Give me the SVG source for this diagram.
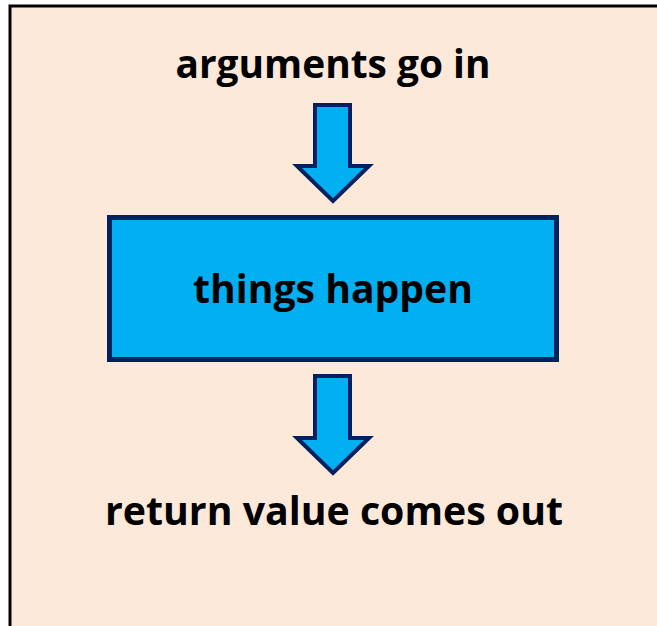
<svg xmlns="http://www.w3.org/2000/svg" width="657" height="626" viewBox="0 0 657 626">
<style>
.t{font-family:"Open Sans","Liberation Sans",sans-serif;font-weight:bold;font-size:39px;fill:#000;text-anchor:middle}
.arr{fill:#00B0F0;stroke:#002060;stroke-width:4;stroke-linejoin:miter}
</style>
<rect x="0" y="0" width="657" height="626" fill="#ffffff"/>
<rect id="frame" x="10" y="6" width="660" height="640" fill="#FDE9D9" stroke="#000" stroke-width="3"/>
<g id="connectors">
<polygon class="arr" points="315,105 350,105 350,166 369,166 333,201 297,166 315,166"/>
<polygon class="arr" points="315,376 350,376 350,438 369,438 333,473 297,438 315,438"/>
</g>
<g id="input">
<text class="t" x="333" y="78" textLength="315" lengthAdjust="spacingAndGlyphs">arguments go in</text>
</g>
<g id="process">
<rect x="109.5" y="217.5" width="447" height="142" fill="#00B0F0" stroke="#002060" stroke-width="5"/>
<text class="t" x="333" y="303" textLength="280" lengthAdjust="spacingAndGlyphs">things happen</text>
</g>
<g id="output">
<text class="t" x="334" y="525" textLength="458" lengthAdjust="spacingAndGlyphs">return value comes out</text>
</g>
</svg>
